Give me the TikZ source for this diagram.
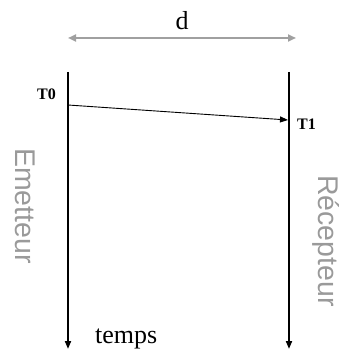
\documentclass[tikz,border=0pt]{standalone}
\usepackage{fontspec}
\setmainfont{Liberation Serif}
\setsansfont{Liberation Sans}
\usetikzlibrary{arrows.meta, positioning}
\definecolor{cotegray}{HTML}{A0A0A0}
\definecolor{txtgray}{HTML}{9A9A9A}
\tikzset{
  % axe du temps d'une station
  axe/.style={line width=1.8pt, -{Triangle[length=8pt, width=6pt]}},
  % message envoye
  msg/.style={line width=0.9pt, -{Triangle[length=8pt, width=6pt]}},
  % cote de distance
  cote/.style={line width=2.8pt, cotegray, {Triangle[length=8pt, width=7pt]}-{Triangle[length=8pt, width=7pt]}},
  % etiquettes
  station/.style={font=\sffamily\fontsize{28.5}{28.5}\selectfont, text=txtgray, rotate=-90, inner sep=0pt},
  instant/.style={font=\bfseries\fontsize{16}{16}\selectfont, inner sep=0pt},
  lbl/.style={font=\fontsize{26}{26}\selectfont, inner sep=0pt},
}
\begin{document}
\begin{tikzpicture}[x=1pt, y=-1pt]
  \useasboundingbox (0,0) rectangle (341,355);
  % cote d
  \coordinate (dL) at (68,38);
  \coordinate (dR) at (296,38);
  \draw[cote] (dL) -- (dR);
  \node[lbl, anchor=base] (d) at (182,30) {d};
  % axes des deux stations
  \coordinate (emTop) at (68,72);
  \coordinate (emBot) at (68,349);
  \coordinate (reTop) at (289,72);
  \coordinate (reBot) at (289,349);
  \draw[axe] (emTop) -- (emBot);
  \draw[axe] (reTop) -- (reBot);
  % envoi de T0 a T1
  \coordinate (t0) at (68,105);
  \coordinate (t1) at (288,120);
  \draw[msg] (t0) -- (t1);
  \node[instant, anchor=base east] (T0) at (56,100) {T0};
  \node[instant, anchor=base west] (T1) at (297,130) {T1};
  % noms et temps
  \node[station] (em) at (25,206) {Emetteur};
  \node[station] (re) at (326,241) {Récepteur};
  \node[lbl, anchor=base west] (temps) at (95,343) {temps};
\end{tikzpicture}
\end{document}
